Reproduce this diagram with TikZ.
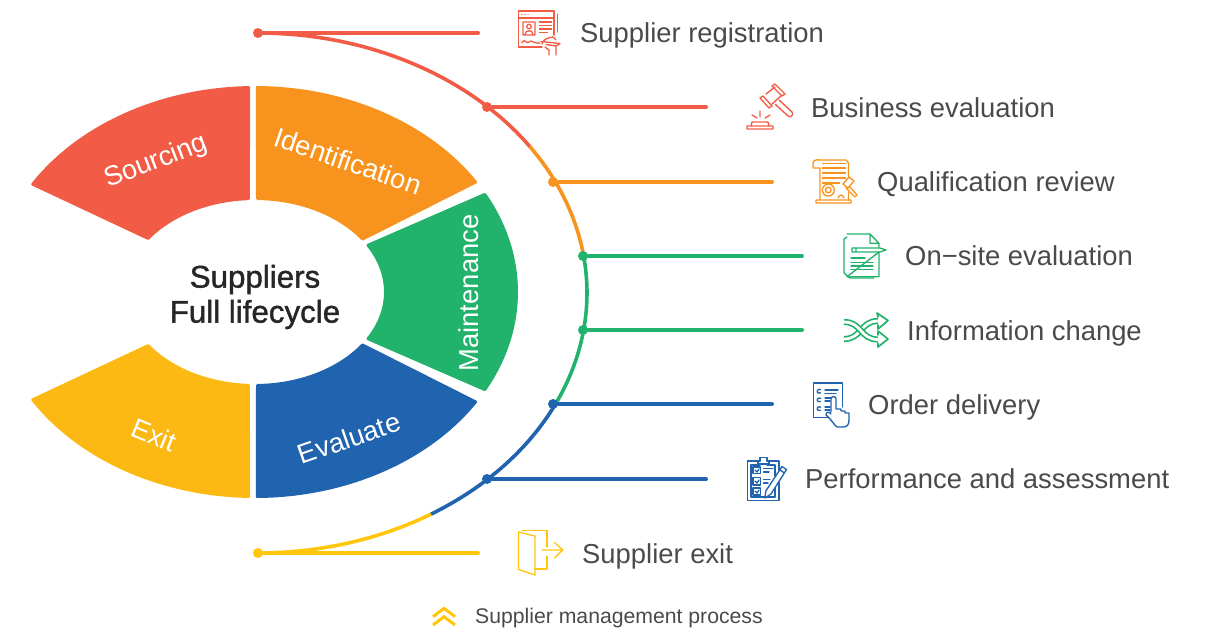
\documentclass[tikz,border=0pt]{standalone}
\usepackage{fontspec}
\setmainfont{Liberation Sans}
\newfontfamily\midfont[FakeBold=1.3]{Liberation Sans}
\usetikzlibrary{calc}
\definecolor{redc}{HTML}{F25C46}
\definecolor{orangec}{HTML}{F8941E}
\definecolor{greenc}{HTML}{21B36B}
\definecolor{bluec}{HTML}{2063AF}
\definecolor{yellowc}{HTML}{FDB913}
\definecolor{linec}{HTML}{FFC60B}
\definecolor{textc}{HTML}{4A4A4A}
\tikzstyle{part} = [line width=3pt, line join=round]
\tikzstyle{partlabel} = [text=white, font=\fontsize{27.4}{27.4}\selectfont]
\tikzstyle{label} = [anchor=base west, text=textc, inner sep=0pt, font=\fontsize{27.4}{27.4}\selectfont]
\tikzstyle{curve} = [line width=3.6pt]
\tikzstyle{branch} = [line width=4pt, line cap=round]
\tikzstyle{dot} = [circle, minimum size=10pt, inner sep=0pt]
\tikzstyle{icon} = [line width=1.35pt, line join=round, line cap=round]
\tikzstyle{bar} = [line width=1.8pt]
\tikzstyle{outer} = [x radius=261.5, y radius=204.5]
\tikzstyle{inner} = [x radius=130.5, y radius=93.5]

\begin{document}
\begin{tikzpicture}[x=1pt,y=-1pt]
    \useasboundingbox (0,0) rectangle (1205,630);

    \coordinate (ring) at (255,292);
    \filldraw [redc, part] ($(ring)+(-91.4:261.5 and 204.5)$) arc[outer,start angle=-91.4,end angle=-148.2] -- ($(ring)+(-145:130.5 and 93.5)$) arc[inner,start angle=-145,end angle=-92.9] -- cycle;
    \filldraw [orangec, part] ($(ring)+(-89.5:261.5 and 204.5)$) arc[outer,start angle=-89.5,end angle=-32.5] -- ($(ring)+(-34.5:130.5 and 93.5)$) arc[inner,start angle=-34.5,end angle=-88.9] -- cycle;
    \filldraw [greenc, part] ($(ring)+(-28.5:261.5 and 204.5)$) arc[outer,start angle=-28.5,end angle=28.5] -- ($(ring)+(30:130.5 and 93.5)$) arc[inner,start angle=30,end angle=-30] -- cycle;
    \filldraw [bluec, part] ($(ring)+(89.5:261.5 and 204.5)$) arc[outer,start angle=89.5,end angle=32.5] -- ($(ring)+(34.5:130.5 and 93.5)$) arc[inner,start angle=34.5,end angle=88.9] -- cycle;
    \filldraw [yellowc, part] ($(ring)+(91.4:261.5 and 204.5)$) arc[outer,start angle=91.4,end angle=148.2] -- ($(ring)+(145:130.5 and 93.5)$) arc[inner,start angle=145,end angle=92.9] -- cycle;

    \node (sourcing) [partlabel, rotate=21] at (156,162) {Sourcing};
    \node (identification) [partlabel, rotate=-19] at (348,161) {Identification};
    \node (maintenance) [partlabel, rotate=90] at (469,293) {Maintenance};
    \node (evaluate) [partlabel, rotate=19] at (349,438) {Evaluate};
    \node (exit) [partlabel, rotate=-22] at (154,435) {Exit};
    \node (center) [align=center, text=black!85, font=\fontsize{31.3}{35}\midfont] at (255,297) {Suppliers\\Full lifecycle};

    \coordinate (arc_start) at (258,33);
    \draw [curve, redc] (arc_start) arc[start angle=-90,end angle=-34.2,x radius=329,y radius=260] coordinate (arc_a);
    \draw [curve, orangec] (arc_a) arc[start angle=-34.2,end angle=-8.2,x radius=329,y radius=260] coordinate (arc_b);
    \draw [curve, greenc] (arc_b) arc[start angle=-8.2,end angle=25.3,x radius=329,y radius=260] coordinate (arc_c);
    \draw [curve, bluec] (arc_c) arc[start angle=25.3,end angle=58.3,x radius=329,y radius=260] coordinate (arc_d);
    \draw [curve, linec] (arc_d) arc[start angle=58.3,end angle=90,x radius=329,y radius=260];

    \node (dot_register) [dot, fill=redc] at (258,33) {};
    \node (dot_business) [dot, fill=redc] at (487,107) {};
    \node (dot_review) [dot, fill=orangec] at (553,182) {};
    \node (dot_onsite) [dot, fill=greenc] at (583,256) {};
    \node (dot_change) [dot, fill=greenc] at (583,330) {};
    \node (dot_order) [dot, fill=bluec] at (553,404) {};
    \node (dot_perform) [dot, fill=bluec] at (487,479) {};
    \node (dot_exit) [dot, fill=linec] at (258,553) {};

    \coordinate (end_register) at (478,33);
    \coordinate (end_business) at (706,107);
    \coordinate (end_review) at (772,182);
    \coordinate (end_onsite) at (802,256);
    \coordinate (end_change) at (802,330);
    \coordinate (end_order) at (772,404);
    \coordinate (end_perform) at (706,479);
    \coordinate (end_exit) at (478,553);

    \draw [branch, redc] (dot_register) -- (end_register);
    \draw [branch, redc] (dot_business) -- (end_business);
    \draw [branch, orangec] (dot_review) -- (end_review);
    \draw [branch, greenc] (dot_onsite) -- (end_onsite);
    \draw [branch, greenc] (dot_change) -- (end_change);
    \draw [branch, bluec] (dot_order) -- (end_order);
    \draw [branch, bluec] (dot_perform) -- (end_perform);
    \draw [branch, linec] (dot_exit) -- (end_exit);

    \node (text_register) [label] at (580,42) {Supplier registration};
    \node (text_business) [label] at (811,117) {Business evaluation};
    \node (text_review) [label] at (877,191) {Qualification review};
    \node (text_onsite) [label] at (905,265) {On−site evaluation};
    \node (text_change) [label] at (907,340) {Information change};
    \node (text_order) [label] at (868,414) {Order delivery};
    \node (text_perform) [label] at (805,488) {Performance and assessment};
    \node (text_exit) [label] at (582,563) {Supplier exit};
    \node (text_process) [anchor=base west, inner sep=0pt, text=textc, font=\fontsize{21.2}{21.2}\selectfont] at (475,623) {Supplier management process};

    \draw [icon, redc] (542,47) -- (518.5,47) -- (518.5,11) -- (554,11) -- (554,35);
    \draw [icon, redc] (518.5,18) -- (554,18) (557.5,14) -- (557.5,32);
    \draw [icon, redc] (522,14.5) -- (522.1,14.5) (525,14.5) -- (525.1,14.5) (528,14.5) -- (528.1,14.5);
    \draw [icon, redc] (523,22) rectangle (535,35) (529,26.5) circle (2.2) (525,34.5) .. controls (525,29.5) and (533,29.5) .. (533,34.5);
    \draw [bar, redc] (539,22) -- (552,22) (539,25.5) -- (552,25.5) (539,29) -- (552,29) (539,32.5) -- (548,32.5);
    \draw [icon, redc] (522,43) .. controls (525,37) and (526,45) .. (529,42) .. controls (532,39) and (533,44) .. (540,43);
    \draw [icon, redc] (542,44) .. controls (543,40) and (546,38) .. (553,37) -- (556,40) (541,41.5) -- (560,43.5) -- (556,46) -- (546,44.5) (545,47) -- (549,50) -- (549,55) (556,46) -- (556,55);

    \draw [icon, redc] (772,86) -- (775,84) -- (785,94) -- (782,96) -- cycle (760,98) -- (763,96) -- (772,106) -- (769,108) -- cycle (766,94) -- (775,87) (782,95) -- (772,104);
    \draw [icon, redc] (779,100) -- (792,112) .. controls (794,115) and (791,118) .. (788,116) -- (775,104);
    \draw [icon, redc] (747,129) -- (773,129) -- (773,126) -- (747,126) -- cycle (751,126) -- (752,122) -- (768,122) -- (769,126);
    \draw [icon, redc] (752,115) -- (757,118) (760,111) -- (760,117) (765,118) -- (770,115);

    \draw [icon, orangec] (820,168) -- (820,200) (820,160) -- (846,160) -- (848.5,163) -- (848.5,178) (848.5,192) -- (848.5,200);
    \draw [icon, orangec] (820,160) .. controls (815,159) and (813,161) .. (813,164) -- (813,168) -- (820,168);
    \draw [bar, orangec] (822,163.5) -- (846,163.5) (822,168.3) -- (846,168.3) (822,173.3) -- (846,173.3) (822,178.3) -- (846,178.3) (822,182.6) -- (840,182.6);
    \draw [icon, orangec] (828.3,190) circle (6) (828.3,190) circle (2.8);
    \draw [icon, orangec] (843,184) -- (849,177) -- (854,181) -- (848,188) -- cycle (849,186) -- (857,195) -- (855,197) -- (846,188);
    \draw [icon, orangec] (838,198) .. controls (840,194) and (842,194) .. (844,198) (820,200) -- (816,200) -- (816,203) -- (851,203) -- (851,200) -- cycle;

    \draw [icon, greenc] (847,234) -- (870,234) -- (879,243.3) -- (879,248) (879,252) -- (879,276.7) -- (847,276.7) -- cycle (870,234) -- (870,243.3) -- (879,243.3);
    \draw [icon, greenc] (847,237) -- (844,239) -- (844,273) -- (850,278) -- (874,278);
    \draw [icon, greenc] (852,248) -- (880,248) -- (886,250) -- (880,252) -- (852,252) -- cycle (856,248) -- (856,252);
    \draw [icon, greenc] (851,258) -- (865,258) (851,262.3) -- (873,262.3) (851,266) -- (873,266) (851,269.5) -- (873,269.5);

    \draw [icon, greenc, line width=1.7pt, double=white, double distance=2.8pt, line cap=butt] (844,339) .. controls (862,339) and (860,321) .. (878,321);
    \draw [icon, greenc, line width=1.7pt, double=white, double distance=2.8pt, line cap=butt] (844,322) .. controls (862,322) and (860,339.5) .. (878,339.5);
    \draw [icon, greenc, line width=1.7pt, fill=white] (878,325) -- (878,329) -- (888,320.5) -- (877,313) -- (878,317);
    \draw [icon, greenc, line width=1.7pt, fill=white] (878,335) -- (878,331) -- (888,339) -- (878,347) -- (878,343.5);

    \draw [icon, bluec] (830,417.5) -- (813.5,417.5) -- (813.5,383) -- (842.5,383) -- (842.5,407);
    \draw [icon, bluec] (820.5,389.8) arc[start angle=-50,end angle=-310,radius=2] (820.5,398.5) arc[start angle=-50,end angle=-310,radius=2] (820.5,407.2) arc[start angle=-50,end angle=-310,radius=2];
    \draw [icon, bluec] (825,390) -- (838,390) (825,393.5) -- (836,393.5) (825,398) -- (831,398) (825,401) -- (830,401) (825,407) -- (830,407) (825,410) -- (830,410);
    \draw [icon, bluec, fill=white] (831,412) -- (831,399) arc[start angle=180,end angle=360,radius=2.5] -- (836,409) -- (841,409) -- (841,411) -- (845,411) -- (845,413) -- (849,413) -- (849,420) .. controls (849,425) and (847,427) .. (843,427) -- (837,427) .. controls (834,425) and (832,420) .. (826,415) .. controls (826,412) and (829,411) .. (831,414);

    \draw [icon, bluec] (760,461) -- (747.5,461) -- (747.5,500.5) -- (779,500.5) -- (779,482) (779,470) -- (779,461) -- (767,461);
    \draw [icon, bluec] (760,465) -- (751,465) -- (751,497) -- (775,497) -- (775,488) (775,476) -- (775,465) -- (767,465);
    \draw [icon, bluec] (758,464) -- (758,461) -- (760,461) -- (760,457.5) -- (767,457.5) -- (767,461) -- (769,461) -- (769,464) -- cycle;
    \draw [icon, bluec] (753,467) rectangle (760.5,473.5) (753,477.5) rectangle (760.5,485) (753,488) rectangle (760.5,495);
    \draw [icon, bluec] (755,470) -- (757,472) -- (759,469) (755,481) -- (757,483) -- (759,480) (755,491) -- (757,493) -- (759,490);
    \draw [icon, bluec] (763.5,468.5) -- (773,468.5) (763.5,472) -- (769,472) (763.5,479.5) -- (770,479.5) (763.5,483) -- (768,483);
    \draw [icon, bluec, fill=white] (782,466.5) -- (786.5,469.5) -- (771,494) -- (765,498) -- (765.8,491) -- cycle (780,470) -- (784.5,473);

    \draw [icon, linec] (522,530.7) -- (547,530.7) -- (547,547) (547,556) -- (547,569) -- (535,569);
    \draw [icon, linec] (518.5,532) -- (535,536) -- (535,575) -- (518.5,569.5) -- cycle;
    \draw [icon, linec] (542,550) -- (562.7,550) (554.5,542.5) -- (562.7,550) -- (554.5,558);

    \draw [line width=3pt, linec] (433,616.7) -- (444,608.3) -- (455,616.7) (433,625) -- (444,616.7) -- (455,625);
\end{tikzpicture}
\end{document}
